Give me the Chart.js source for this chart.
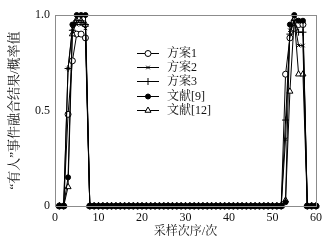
<!DOCTYPE html>
<html>
<head>
<meta charset="utf-8">
<script src="https://cdn.jsdelivr.net/npm/chart.js@4/dist/chart.umd.min.js"></script>
<style>
  html, body { margin: 0; padding: 0; background: #fff; }
  #wrap { width: 332px; height: 244px; }
</style>
</head>
<body>
<div id="wrap"><canvas id="fusion-chart" width="332" height="244"></canvas></div>
<script>
// sample index (x axis)
const samples = [1,2,3,4,5,6,7,8,9,10,11,12,13,14,15,16,17,18,19,20,
  21,22,23,24,25,26,27,28,29,30,31,32,33,34,35,36,37,38,39,40,
  41,42,43,44,45,46,47,48,49,50,51,52,53,54,55,56,57,58,59,60];

const seriesNames = ['方案1', '方案2', '方案3', '文献[9]', '文献[12]'];

// fused probability values
const plan1 = [0,0,0.48,0.76,0.90,0.90,0.88,0,0,0, 0,0,0,0,0,0,0,0,0,0,
  0,0,0,0,0,0,0,0,0,0, 0,0,0,0,0,0,0,0,0,0,
  0,0,0,0,0,0,0,0,0,0, 0,0,0.69,0.88,0.93,0.95,0.95,0,0,0];
const plan2 = [0,0,0.72,0.93,0.95,0.95,0.93,0,0,0, 0,0,0,0,0,0,0,0,0,0,
  0,0,0,0,0,0,0,0,0,0, 0,0,0,0,0,0,0,0,0,0,
  0,0,0,0,0,0,0,0,0,0, 0,0,0.35,0.92,0.97,0.84,0.84,0,0,0];
const plan3 = [0,0,0.72,0.92,0.97,0.97,0.95,0,0,0, 0,0,0,0,0,0,0,0,0,0,
  0,0,0,0,0,0,0,0,0,0, 0,0,0,0,0,0,0,0,0,0,
  0,0,0,0,0,0,0,0,0,0, 0,0,0.45,0.90,0.97,0.91,0.91,0,0,0];
const ref9 = [0,0,0.15,0.95,1.0,1.0,1.0,0,0,0, 0,0,0,0,0,0,0,0,0,0,
  0,0,0,0,0,0,0,0,0,0, 0,0,0,0,0,0,0,0,0,0,
  0,0,0,0,0,0,0,0,0,0, 0,0,0.02,0.95,1.0,0.97,0.97,0,0,0];
const ref12 = [0,0,0.10,0.90,0.97,0.97,0.95,0,0,0, 0,0,0,0,0,0,0,0,0,0,
  0,0,0,0,0,0,0,0,0,0, 0,0,0,0,0,0,0,0,0,0,
  0,0,0,0,0,0,0,0,0,0, 0,0,0.03,0.60,0.98,0.69,0.69,0,0,0];

const xTicks = [0, 10, 20, 30, 40, 50, 60];
const yTicks = [0, 0.5, 1.0];

const serif = '"Liberation Serif", "Noto Serif CJK SC", "Noto Sans CJK SC", serif';

// marker look for each series (order: lower = drawn on top)
const markers = [
  { pointStyle: 'circle',   radius: 3,   fill: '#fff', order: 4 },
  { pointStyle: 'crossRot', radius: 2.5, fill: '#000', order: 2 },
  { pointStyle: 'cross',    radius: 3.5, fill: '#000', order: 1 },
  { pointStyle: 'circle',   radius: 2.5, fill: '#000', order: 0 },
  { pointStyle: 'triangle', radius: 3.5, fill: '#fff', order: 3 }
];

const allValues = [plan1, plan2, plan3, ref9, ref12];

const datasets = allValues.map((vals, i) => ({
  label: seriesNames[i],
  data: vals.map((v, k) => ({ x: samples[k], y: v })),
  order: markers[i].order,
  borderColor: '#000',
  borderWidth: 1,
  pointStyle: markers[i].pointStyle,
  pointRadius: markers[i].radius,
  pointBackgroundColor: markers[i].fill,
  pointBorderColor: '#000',
  pointBorderWidth: 1,
  tension: 0,
  clip: false
}));

// grey frame round the plot area
const framePlugin = {
  id: 'frame',
  afterDraw(chart) {
    const a = chart.chartArea;
    const ctx = chart.ctx;
    ctx.save();
    ctx.strokeStyle = '#8c8c8c';
    ctx.lineWidth = 1;
    ctx.strokeRect(a.left + 0.5, a.top + 0.5, a.right - a.left, a.bottom - a.top);
    ctx.restore();
  }
};

// legend inside the plot: line with a marker, then the name
const legendPlugin = {
  id: 'innerLegend',
  afterDraw(chart) {
    const ctx = chart.ctx;
    const x0 = 137, x1 = 159, tx = 167;
    const rows = [53, 67, 81, 96, 110];
    ctx.save();
    seriesNames.forEach((name, i) => {
      const y = rows[i];
      ctx.strokeStyle = '#000';
      ctx.lineWidth = 1;
      ctx.beginPath();
      ctx.moveTo(x0, y + 0.5);
      ctx.lineTo(x1, y + 0.5);
      ctx.stroke();
      ctx.fillStyle = markers[i].fill;
      Chart.helpers.drawPoint(ctx, {
        pointStyle: markers[i].pointStyle,
        radius: markers[i].radius,
        rotation: 0,
        borderWidth: 1
      }, (x0 + x1) / 2, y + 0.5);
      ctx.fillStyle = '#111';
      ctx.font = '12px ' + serif;
      ctx.textBaseline = 'middle';
      ctx.textAlign = 'left';
      ctx.fillText(name, tx, y + 1);
    });
    ctx.restore();
  }
};

new Chart(document.getElementById('fusion-chart'), {
  type: 'line',
  data: { datasets: datasets },
  options: {
    responsive: false,
    animation: false,
    layout: { padding: { top: 15, right: 16, left: 0, bottom: 0 } },
    plugins: {
      legend: { display: false },
      tooltip: { enabled: false }
    },
    scales: {
      x: {
        type: 'linear',
        min: 0,
        max: 60,
        afterBuildTicks: (s) => { s.ticks = xTicks.map(v => ({ value: v })); },
        afterFit: (s) => { s.height = 38; },
        grid: { display: false, drawTicks: false },
        border: { display: false },
        ticks: {
          padding: 5,
          color: '#111',
          font: { family: serif, size: 12 },
          maxRotation: 0
        },
        title: {
          display: true,
          text: '采样次序/次',
          color: '#111',
          font: { family: serif, size: 12 },
          padding: { top: 0, bottom: 5 }
        }
      },
      y: {
        min: 0,
        max: 1,
        afterBuildTicks: (s) => { s.ticks = yTicks.map(v => ({ value: v })); },
        afterFit: (s) => { s.width = 55; },
        grid: { display: false, drawTicks: false },
        border: { display: false },
        ticks: {
          padding: 5,
          color: '#111',
          font: { family: serif, size: 12 },
          callback: (v) => (v === 0 ? '0' : v.toFixed(1))
        },
        title: {
          display: true,
          text: '“有人”事件融合结果/概率值',
          color: '#111',
          font: { family: serif, size: 13 },
          padding: { top: 7, bottom: 0 }
        }
      }
    }
  },
  plugins: [framePlugin, legendPlugin]
});
</script>
</body>
</html>
